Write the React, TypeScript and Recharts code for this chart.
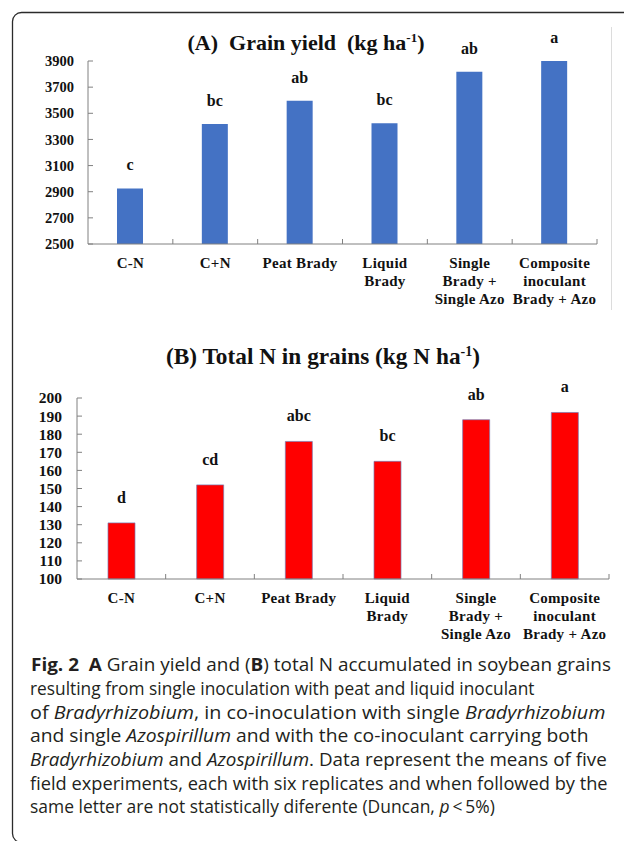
import React, { useLayoutEffect, useRef, useState } from "react";
import { BarChart, Bar, XAxis, YAxis, LabelList } from "recharts";

// ---------- data ----------
const categories = [
  "C-N",
  "C+N",
  "Peat Brady",
  "Liquid\nBrady",
  "Single\nBrady +\nSingle Azo",
  "Composite\ninoculant\nBrady + Azo",
];
const grainYield = [2925, 3418, 3596, 3423, 3818, 3900];
const grainYieldLetters = ["c", "bc", "ab", "bc", "ab", "a"];
const yieldTicks = [2500, 2700, 2900, 3100, 3300, 3500, 3700, 3900];

const totalN = [131, 152, 176, 165, 188, 192];
const totalNLetters = ["d", "cd", "abc", "bc", "ab", "a"];
const nTicks = [100, 110, 120, 130, 140, 150, 160, 170, 180, 190, 200];

const dataA = categories.map((c, i) => ({ cat: c, value: grainYield[i], letter: grainYieldLetters[i] }));
const dataB = categories.map((c, i) => ({ cat: c, value: totalN[i], letter: totalNLetters[i] }));

// ---------- styles ----------
const SERIF = "'Liberation Serif', 'Times New Roman', serif";
const SANS = "'Open Sans', 'Noto Sans', sans-serif";
const AXIS_GRAY = "#808080";
const TEXT = "#111";

function makeXTick(band: number) {
  return (props: any) => {
    const { x, y, payload } = props;
    const lines = String(payload.value).split("\n");
    return (
      <g>
        <line x1={x + band / 2} x2={x + band / 2} y1={y} y2={y - 5} stroke={AXIS_GRAY} strokeWidth={1} />
        <text
          x={x}
          y={y + 24}
          textAnchor="middle"
          fontFamily={SERIF}
          fontWeight="bold"
          fontSize={15}
          letterSpacing={0.3}
          fill={TEXT}
        >
          {lines.map((l, i) => (
            <tspan key={i} x={x} dy={i === 0 ? 0 : 18}>
              {l}
            </tspan>
          ))}
        </text>
      </g>
    );
  };
}

function makeYTick(gap: number, fontSize: number) {
  return (props: any) => {
    const { x, y, payload } = props;
    return (
      <g>
        <line x1={x} x2={x + 5} y1={y} y2={y} stroke={AXIS_GRAY} strokeWidth={1} />
        <text
          x={x - gap}
          y={y}
          dy="0.35em"
          textAnchor="end"
          fontFamily={SERIF}
          fontWeight="bold"
          fontSize={fontSize}
          fill={TEXT}
        >
          {payload.value}
        </text>
      </g>
    );
  };
}

const W = 624;
const A = { top: 0, h: 320, margin: { top: 61, right: 27, bottom: 16, left: 0 }, yW: 88 };
const B = { top: 330, h: 320, margin: { top: 68, right: 15, bottom: 11, left: 0 }, yW: 77 };
const bandA = (W - A.margin.right - A.margin.left - A.yW) / categories.length;
const bandB = (W - B.margin.right - B.margin.left - B.yW) / categories.length;

const pre: React.CSSProperties = { whiteSpace: "pre" };

function FitLine({ x, y, width, children }: { x: number; y: number; width: number; children: React.ReactNode }) {
  const ref = useRef<SVGTextElement>(null);
  const [s, setS] = useState(1);
  useLayoutEffect(() => {
    if (ref.current) {
      const w = ref.current.getComputedTextLength();
      if (w > 0) setS(width / w);
    }
  }, [width]);
  return (
    <g transform={`translate(${x},${y}) scale(${s},1)`}>
      <text ref={ref} x={0} y={0} style={pre}>
        {children}
      </text>
    </g>
  );
}

export default function App() {
  return (
    <div style={{ position: "absolute", left: 0, top: 0, width: 624, height: 841, background: "#fff", overflow: "hidden" }}>
      <div style={{ position: "absolute", left: 0, top: A.top }}>
        <BarChart width={W} height={A.h} data={dataA} margin={A.margin} barSize={26}>
          <XAxis
            dataKey="cat"
            interval={0}
            height={60}
            tickSize={0}
            tickMargin={0}
            tickLine={false}
            axisLine={{ stroke: AXIS_GRAY }}
            tick={makeXTick(bandA)}
          />
          <YAxis
            width={A.yW}
            domain={[2500, 3900]}
            ticks={yieldTicks}
            interval={0}
            tickSize={0}
            tickMargin={0}
            tickLine={false}
            axisLine={{ stroke: AXIS_GRAY }}
            tick={makeYTick(14, 14.5)}
          />
          <Bar dataKey="value" fill="#4472C4" isAnimationActive={false}>
            <LabelList
              dataKey="letter"
              position="top"
              offset={18}
              fontFamily={SERIF}
              fontWeight="bold"
              fontSize={16}
              fill={TEXT}
            />
          </Bar>
        </BarChart>
      </div>

      <div style={{ position: "absolute", left: 0, top: B.top }}>
        <BarChart width={W} height={B.h} data={dataB} margin={B.margin} barSize={27}>
          <XAxis
            dataKey="cat"
            interval={0}
            height={60}
            tickSize={0}
            tickMargin={0}
            tickLine={false}
            axisLine={{ stroke: AXIS_GRAY }}
            tick={makeXTick(bandB)}
          />
          <YAxis
            width={B.yW}
            domain={[100, 200]}
            ticks={nTicks}
            interval={0}
            tickSize={0}
            tickMargin={0}
            tickLine={false}
            axisLine={{ stroke: AXIS_GRAY }}
            tick={makeYTick(15, 15.5)}
          />
          <Bar dataKey="value" fill="#FF0000" stroke="#7a7ab0" strokeWidth={0.7} isAnimationActive={false}>
            <LabelList
              dataKey="letter"
              position="top"
              offset={20}
              fontFamily={SERIF}
              fontWeight="bold"
              fontSize={16}
              fill={TEXT}
            />
          </Bar>
        </BarChart>
      </div>

      <svg
        width={624}
        height={841}
        style={{ position: "absolute", left: 0, top: 0, pointerEvents: "none" }}
      >
        {/* frame */}
        <rect x={12.5} y={12.5} width={700} height={830} rx={9} ry={9} fill="none" stroke="#2b2b2b" strokeWidth={1.3} />
        {/* faint image edge */}
        <line x1={611.5} x2={611.5} y1={27} y2={310} stroke="#dcdcdc" strokeWidth={1} />

        {/* titles */}
        <text x={306} y={50} textAnchor="middle" fontFamily={SERIF} fontWeight="bold" fontSize={22} fill={TEXT} style={pre}>
          {"(A)  Grain yield  (kg ha"}
          <tspan fontSize={13} dy={-8}>{"-1"}</tspan>
          <tspan dy={8}>{")"}</tspan>
        </text>
        <text x={323} y={364} textAnchor="middle" fontFamily={SERIF} fontWeight="bold" fontSize={23.3} fill={TEXT} style={pre}>
          {"(B) Total N in grains (kg N ha"}
          <tspan fontSize={14} dy={-8}>{"-1"}</tspan>
          <tspan dy={8}>{")"}</tspan>
        </text>

        {/* caption */}
        <g fontFamily={SANS} fontSize={18} fill="#231f20">
          <FitLine x={31} y={671} width={580}>
            <tspan fontWeight="bold">{"Fig. 2"}</tspan>
            {"  "}
            <tspan fontWeight="bold">{"A"}</tspan>
            {" Grain yield and ("}
            <tspan fontWeight="bold">{"B"}</tspan>
            {") total N accumulated in soybean grains"}
          </FitLine>
          <FitLine x={30} y={695} width={505}>
            {"resulting from single inoculation with peat and liquid inoculant"}
          </FitLine>
          <FitLine x={30} y={718.5} width={576}>
            {"of "}
            <tspan fontStyle="italic">{"Bradyrhizobium"}</tspan>
            {", in co-inoculation with single "}
            <tspan fontStyle="italic">{"Bradyrhizobium"}</tspan>
          </FitLine>
          <FitLine x={30} y={742} width={559}>
            {"and single "}
            <tspan fontStyle="italic">{"Azospirillum"}</tspan>
            {" and with the co-inoculant carrying both"}
          </FitLine>
          <FitLine x={30} y={766} width={577}>
            <tspan fontStyle="italic">{"Bradyrhizobium"}</tspan>
            {" and "}
            <tspan fontStyle="italic">{"Azospirillum"}</tspan>
            {". Data represent the means of five"}
          </FitLine>
          <FitLine x={30} y={789.5} width={578}>
            {"field experiments, each with six replicates and when followed by the"}
          </FitLine>
          <FitLine x={30} y={813} width={465}>
            {"same letter are not statistically diferente (Duncan, "}
            <tspan fontStyle="italic">{"p"}</tspan>
            {"\u2009<\u20095%)"}
          </FitLine>
        </g>
      </svg>
    </div>
  );
}
